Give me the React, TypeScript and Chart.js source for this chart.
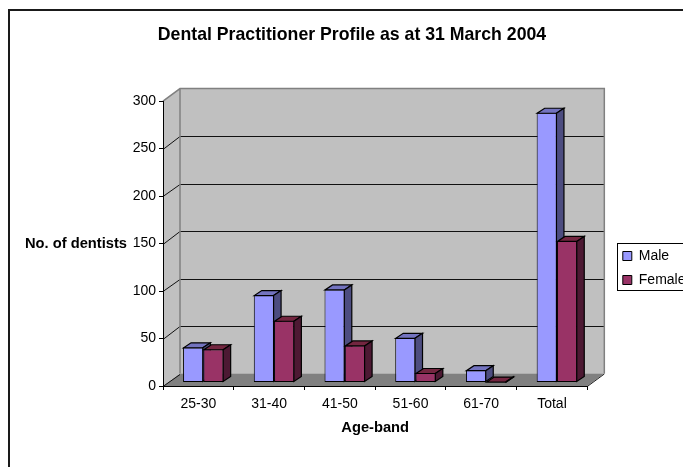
import React, { useEffect, useRef } from "react";
import { Chart, registerables } from "chart.js";

Chart.register(...registerables);

const categories = ["25-30", "31-40", "41-50", "51-60", "61-70", "Total"];
const maleValues = [37, 92, 98, 47, 13, 284];
const femaleValues = [35, 65, 39, 10, 1, 149];
const titleText = "Dental Practitioner Profile as at 31 March 2004";
const yTitle = "No. of dentists";
const xTitle = "Age-band";

const FONT = "'Liberation Sans', Arial, sans-serif";
const MALE = { front: "#9999FF", side: "#4D4D80", top: "#7373BF" };
const FEMALE = { front: "#993366", side: "#4D1933", top: "#732640" };
const DEPTH_X = 17;
const DEPTH_Y = 12.5;
const BAR_OFF_X = 5;
const BAR_OFF_Y = 3.5;
const BAR_DX = 7.5;
const BAR_DY = 5;

function poly(ctx: CanvasRenderingContext2D, pts: number[][], fill: string | null, stroke: string | null, lw = 1) {
  ctx.beginPath();
  pts.forEach((p, i) => (i ? ctx.lineTo(p[0], p[1]) : ctx.moveTo(p[0], p[1])));
  ctx.closePath();
  if (fill) {
    ctx.fillStyle = fill;
    ctx.fill();
  }
  if (stroke) {
    ctx.strokeStyle = stroke;
    ctx.lineWidth = lw;
    ctx.stroke();
  }
}

function drawBars(chart: any, index: number) {
  const ctx: CanvasRenderingContext2D = chart.ctx;
  const meta = chart.getDatasetMeta(index);
  const c = index === 0 ? MALE : FEMALE;
  ctx.save();
  ctx.translate(BAR_OFF_X, -BAR_OFF_Y);
  meta.controller.draw();
  meta.data.forEach((el: any) => {
    const p = el.getProps(["x", "y", "base", "width"], true);
    const l = p.x - p.width / 2 + 0.5;
    const r = p.x + p.width / 2 - 0.5;
    const t = p.y + 0.5;
    const b = p.base - 0.5;
    poly(ctx, [[l, t], [r, t], [r + BAR_DX, t - BAR_DY], [l + BAR_DX, t - BAR_DY]], c.top, "#000", 1.2);
    poly(ctx, [[r, t], [r + BAR_DX, t - BAR_DY], [r + BAR_DX, b - BAR_DY], [r, b]], c.side, "#000", 1.2);
  });
  ctx.restore();
}

const threeD = {
  id: "threeD",
  afterLayout(chart: any) {
    const t = chart.titleBlock;
    if (t) {
      t.left += 17;
      t.right += 17;
    }
    const l = chart.legend;
    if (l) {
      const w = l.width;
      const h = l.height;
      l.left = 612.8;
      l.right = l.left + w;
      l.top = 239;
      l.bottom = l.top + h;
    }
  },
  beforeDraw(chart: any) {
    const ctx: CanvasRenderingContext2D = chart.ctx;
    const { left, right, top, bottom } = chart.chartArea;
    const y = chart.scales.y;
    ctx.save();
    // outer frame
    ctx.strokeStyle = "#1a1a1a";
    ctx.lineWidth = 2;
    ctx.beginPath();
    ctx.moveTo(9, 467);
    ctx.lineTo(9, 10);
    ctx.lineTo(683, 10);
    ctx.stroke();
    // walls and floor
    const bl = left + DEPTH_X;
    const br = right + DEPTH_X;
    const bt = top - DEPTH_Y;
    const bb = bottom - DEPTH_Y;
    poly(ctx, [[left, bottom], [left, top], [bl, bt], [bl, bb]], "#C0C0C0", null);
    poly(ctx, [[bl, bt], [br, bt], [br, bb], [bl, bb]], "#C0C0C0", null);
    poly(ctx, [[left, bottom], [bl, bb], [br, bb], [right, bottom]], "#808080", null);
    // grid lines on the back wall and side wall
    ctx.lineWidth = 1;
    y.ticks.forEach((tick: any) => {
      const py = y.getPixelForValue(tick.value);
      const by = Math.round(py - DEPTH_Y) + 0.5;
      if (tick.value > 0 && tick.value < 300) {
        ctx.strokeStyle = "#111";
        ctx.beginPath();
        ctx.moveTo(bl, by);
        ctx.lineTo(br, by);
        ctx.stroke();
      }
      if (tick.value < 300) {
        ctx.strokeStyle = "#111";
        ctx.beginPath();
        ctx.moveTo(left, Math.round(py) + 0.5);
        ctx.lineTo(bl, by);
        ctx.stroke();
      }
    });
    // wall edges
    ctx.strokeStyle = "#808080";
    ctx.lineWidth = 1.5;
    ctx.beginPath();
    ctx.moveTo(left, top);
    ctx.lineTo(bl, bt);
    ctx.lineTo(br, bt);
    ctx.lineTo(br, bb);
    ctx.moveTo(bl, bt);
    ctx.lineTo(bl, bb);
    ctx.stroke();
    ctx.strokeStyle = "#222";
    ctx.lineWidth = 1;
    ctx.beginPath();
    ctx.moveTo(right, bottom + 0.5);
    ctx.lineTo(br, bb + 0.5);
    ctx.stroke();
    // legend box
    ctx.strokeStyle = "#000";
    ctx.lineWidth = 1;
    ctx.strokeRect(617.5, 243.5, 80, 47);
    ctx.restore();
  },
  beforeDatasetDraw(chart: any, args: any) {
    // Excel paints Male first so that Female's front hides Male's side face.
    if (args.index === 1) {
      drawBars(chart, 0);
      drawBars(chart, 1);
    }
    return false;
  },
  afterDraw(chart: any) {
    const ctx: CanvasRenderingContext2D = chart.ctx;
    ctx.save();
    ctx.font = `bold 14.7px ${FONT}`;
    ctx.fillStyle = "#000";
    ctx.textAlign = "right";
    ctx.textBaseline = "middle";
    ctx.fillText(yTitle, 127, 243.5);
    ctx.restore();
  },
};

export default function App() {
  const ref = useRef<HTMLCanvasElement>(null);
  useEffect(() => {
    const chart = new Chart(ref.current!, {
      type: "bar",
      data: {
        labels: categories,
        datasets: [
          {
            label: "Male",
            data: maleValues,
            backgroundColor: MALE.front,
            borderColor: "#000",
            borderWidth: 1,
            borderSkipped: false,
            clip: false,
            categoryPercentage: 0.574,
            barPercentage: 1,
          },
          {
            label: "Female",
            data: femaleValues,
            backgroundColor: FEMALE.front,
            borderColor: "#000",
            borderWidth: 1,
            borderSkipped: false,
            clip: false,
            categoryPercentage: 0.574,
            barPercentage: 1,
          },
        ] as any,
      },
      options: {
        responsive: false,
        animation: false,
        events: [],
        layout: { autoPadding: false, padding: { left: 0, right: 13, top: 0, bottom: 0 } },
        plugins: {
          tooltip: { enabled: false },
          title: {
            display: true,
            text: titleText,
            color: "#000",
            font: { family: FONT, size: 17.7, weight: "bold" },
            padding: { top: 24.4, bottom: 55.4 },
          },
          legend: {
            display: true,
            position: "right",
            align: "start",
            labels: {
              boxWidth: 9,
              boxHeight: 9,
              padding: 10,
              color: "#000",
              font: { family: FONT, size: 14 },
            },
          },
        },
        scales: {
          x: {
            grid: { drawOnChartArea: false, drawTicks: true, tickLength: 4, tickColor: "#000", offset: true },
            border: { color: "#000", width: 1 },
            ticks: {
              color: "#000",
              font: { family: FONT, size: 14 },
              padding: 6,
              maxRotation: 0,
              autoSkip: false,
            },
            title: {
              display: true,
              text: xTitle,
              color: "#000",
              font: { family: FONT, size: 14.7, weight: "bold" },
              padding: { top: 0, bottom: 30 },
            },
            afterFit(s: any) {
              s.height = 81;
            },
          },
          y: {
            min: 0,
            max: 300,
            grid: { drawOnChartArea: false, drawTicks: true, tickLength: 4, tickColor: "#000" },
            border: { color: "#000", width: 1 },
            ticks: {
              stepSize: 50,
              color: "#000",
              font: { family: FONT, size: 14 },
              padding: 3,
            },
            afterFit(s: any) {
              s.width = 163;
            },
          },
        },
      },
      plugins: [threeD],
    } as any);
    return () => chart.destroy();
  }, []);
  return (
    <div style={{ position: "absolute", left: 0, top: 0, width: 683, height: 467, overflow: "hidden", background: "#fff" }}>
      <canvas ref={ref} width={683} height={467} style={{ display: "block" }} />
    </div>
  );
}
